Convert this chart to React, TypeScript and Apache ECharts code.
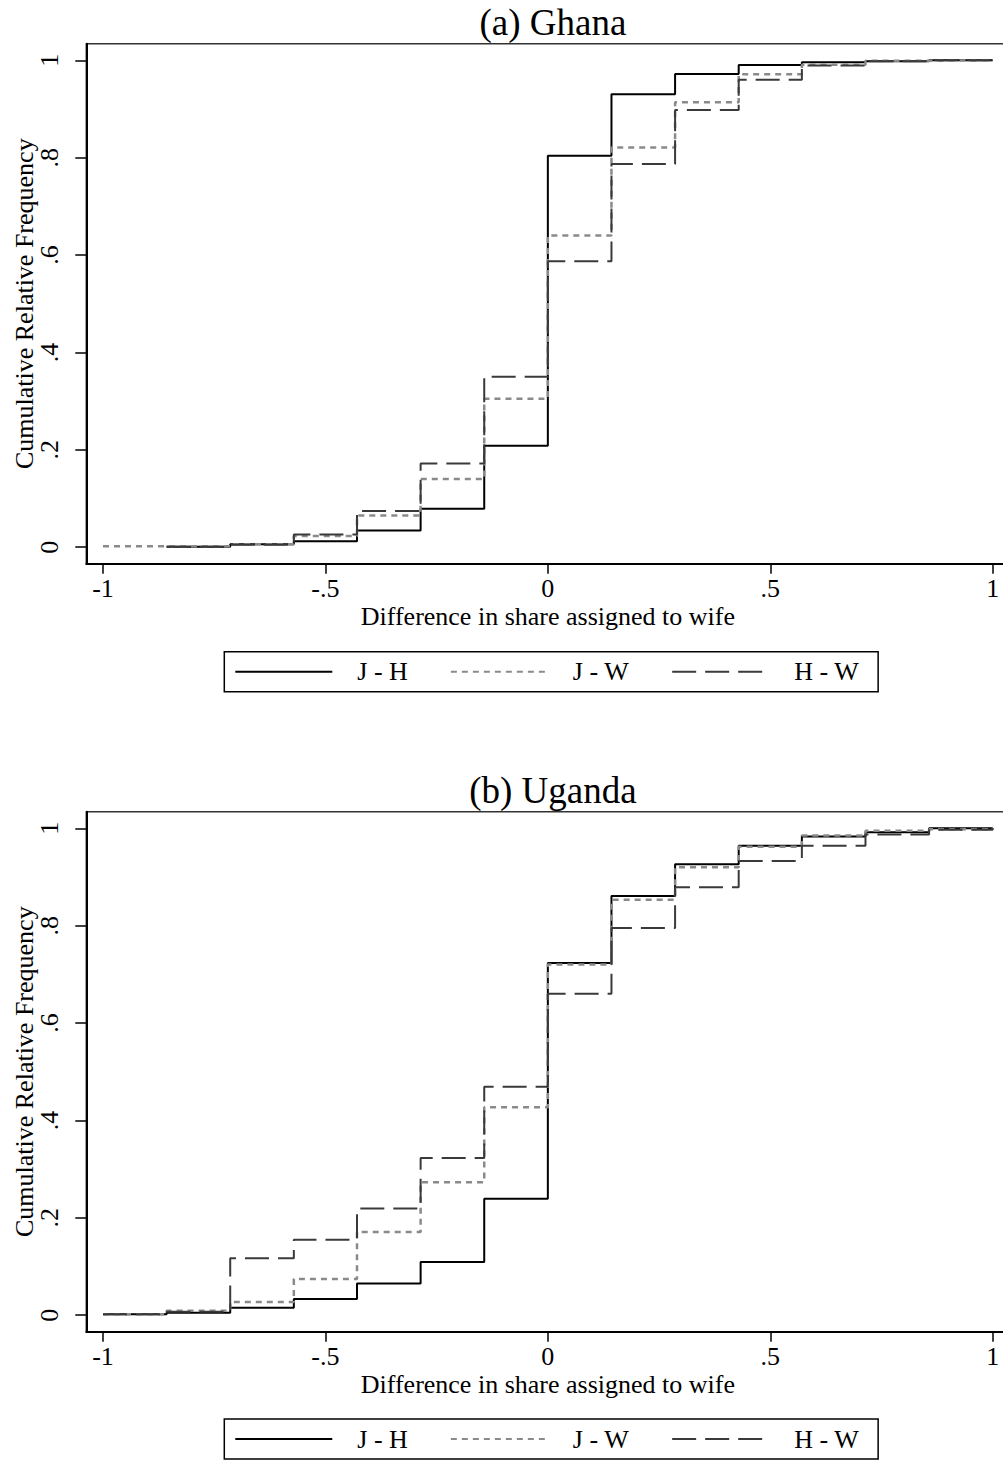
import React, { useEffect, useRef } from "react";
import * as echarts from "echarts";

// x positions of the steps (share differences in sevenths)
const xSteps = [-1, -0.857, -0.714, -0.571, -0.429, -0.286, -0.143, 0, 0.143, 0.286, 0.429, 0.571, 0.714, 0.857, 1];

const seriesNames = ["J - H", "J - W", "H - W"];
const panelTitles = ["(a) Ghana", "(b) Uganda"];
const xTicks = [-1, -0.5, 0, 0.5, 1];
const yTicks = [0, 0.2, 0.4, 0.6, 0.8, 1];

// Ghana cumulative relative frequencies
const ghanaJH = [null, 0.001, 0.006, 0.012, 0.034, 0.079, 0.208, 0.804, 0.93, 0.972, 0.99, 0.996, 0.998, 1.0, 1.0];
const ghanaJW = [0.002, 0.002, 0.006, 0.023, 0.065, 0.14, 0.305, 0.64, 0.821, 0.914, 0.971, 0.991, 0.999, 1.0, null];
const ghanaHW = [null, 0.001, 0.005, 0.026, 0.074, 0.172, 0.35, 0.587, 0.787, 0.898, 0.96, 0.989, 0.998, 1.0, null];

// Uganda cumulative relative frequencies
const ugandaJH = [0.002, 0.005, 0.015, 0.033, 0.065, 0.109, 0.239, 0.723, 0.861, 0.926, 0.964, 0.983, 0.992, 1.0, 1.0];
const ugandaJW = [0.002, 0.009, 0.027, 0.074, 0.171, 0.273, 0.427, 0.72, 0.853, 0.92, 0.962, 0.985, 0.995, 0.998, 1.0];
const ugandaHW = [0.002, 0.007, 0.117, 0.155, 0.219, 0.323, 0.469, 0.66, 0.795, 0.879, 0.933, 0.964, 0.987, 0.997, 1.0];

const FONT = "Liberation Serif";

const lineStyles = [
  { color: "#000000", width: 2, type: "solid" },
  { color: "#8a8a8a", width: 2.5, type: [6, 5] },
  { color: "#3a3a3a", width: 2, type: [24, 9] },
];

function fmtNum(v: number): string {
  if (v === 0) return "0";
  if (Math.abs(v) === 1) return v < 0 ? "-1" : "1";
  const s = String(Math.round(v * 100) / 100);
  return s.replace("0.", ".");
}

function toPairs(vals: (number | null)[]) {
  return xSteps.map((x, i) => [x, vals[i]]);
}

export default function App() {
  const ref = useRef<HTMLDivElement>(null);
  useEffect(() => {
    if (!ref.current) return;
    const chart = echarts.init(ref.current, null, { renderer: "svg" });
    const gridTops = [43.7, 811.7];
    const grids = gridTops.map((t) => ({
      left: 86.3,
      top: t,
      width: 923.1,
      height: 520,
      containLabel: false,
      outerBoundsMode: "none",
      show: true,
      borderColor: "#333",
      borderWidth: 1.5,
      backgroundColor: "#fff",
    }));
    const xAxes = gridTops.map((_, i) => ({
      type: "value",
      gridIndex: i,
      min: -1.0375,
      max: 1.0375,
      name: "Difference in share assigned to wife",
      nameLocation: "middle",
      nameGap: 40,
      nameMoveOverlap: false,
      nameTextStyle: { fontFamily: FONT, fontSize: 26, color: "#000" },
      axisLine: { show: true, onZero: false, lineStyle: { color: "#000", width: 2 } },
      axisTick: { show: true, length: 10, customValues: xTicks, lineStyle: { color: "#000", width: 1.5 } },
      axisLabel: {
        customValues: xTicks,
        formatter: (v: number) => fmtNum(v),
        fontFamily: FONT,
        fontSize: 26,
        color: "#000",
        margin: 12,
      },
      splitLine: { show: false },
    }));
    const yAxes = gridTops.map((_, i) => ({
      type: "value",
      gridIndex: i,
      min: -0.034,
      max: 1.034,
      name: "Cumulative Relative Frequency",
      nameLocation: "middle",
      nameRotate: 90,
      nameGap: 49,
      nameMoveOverlap: false,
      nameTextStyle: { fontFamily: FONT, fontSize: 26, color: "#000" },
      axisLine: { show: true, onZero: false, lineStyle: { color: "#000", width: 2 } },
      axisTick: { show: true, length: 11, customValues: yTicks, lineStyle: { color: "#000", width: 1.5 } },
      axisLabel: {
        customValues: yTicks,
        formatter: (v: number) => fmtNum(v),
        rotate: 90,
        fontFamily: FONT,
        fontSize: 26,
        color: "#000",
        margin: 24,
      },
      splitLine: { show: false },
    }));
    const panelData = [
      [ghanaJH, ghanaJW, ghanaHW],
      [ugandaJH, ugandaJW, ugandaHW],
    ];
    const series: any[] = [];
    panelData.forEach((set, p) => {
      set.forEach((vals, k) => {
        series.push({
          type: "line",
          name: seriesNames[k],
          xAxisIndex: p,
          yAxisIndex: p,
          step: "end",
          symbol: "none",
          showSymbol: false,
          connectNulls: false,
          lineStyle: lineStyles[k],
          itemStyle: { color: lineStyles[k].color },
          data: toPairs(vals),
          z: 3 + k,
        });
      });
    });
    const legendTops = [651.7, 1419];
    const legends = legendTops.map((t) => ({
      data: seriesNames,
      left: 224.3,
      top: t,
      orient: "horizontal",
      itemWidth: 97,
      itemHeight: 14,
      itemGap: 42,
      padding: [6, 19, 6, 10],
      borderColor: "#000",
      borderWidth: 1.5,
      selectedMode: false,
      itemStyle: { opacity: 0, borderWidth: 0 },
      textStyle: { fontFamily: FONT, fontSize: 26, color: "#000", padding: [0, 0, 0, 20], lineHeight: 28 },
    }));
    const titles = panelTitles.map((txt, i) => ({
      text: txt,
      left: 547.9,
      textAlign: "center",
      top: gridTops[i] - 45,
      textStyle: { fontFamily: FONT, fontSize: 37, fontWeight: "normal", color: "#000" },
    }));
    chart.setOption({
      animation: false,
      backgroundColor: "#fff",
      title: titles,
      grid: grids,
      xAxis: xAxes,
      yAxis: yAxes,
      legend: legends,
      series,
    });
    return () => chart.dispose();
  }, []);
  return (
    <div
      ref={ref}
      style={{ position: "absolute", left: 0, top: 0, width: 1003, height: 1466, background: "#fff" }}
    />
  );
}
